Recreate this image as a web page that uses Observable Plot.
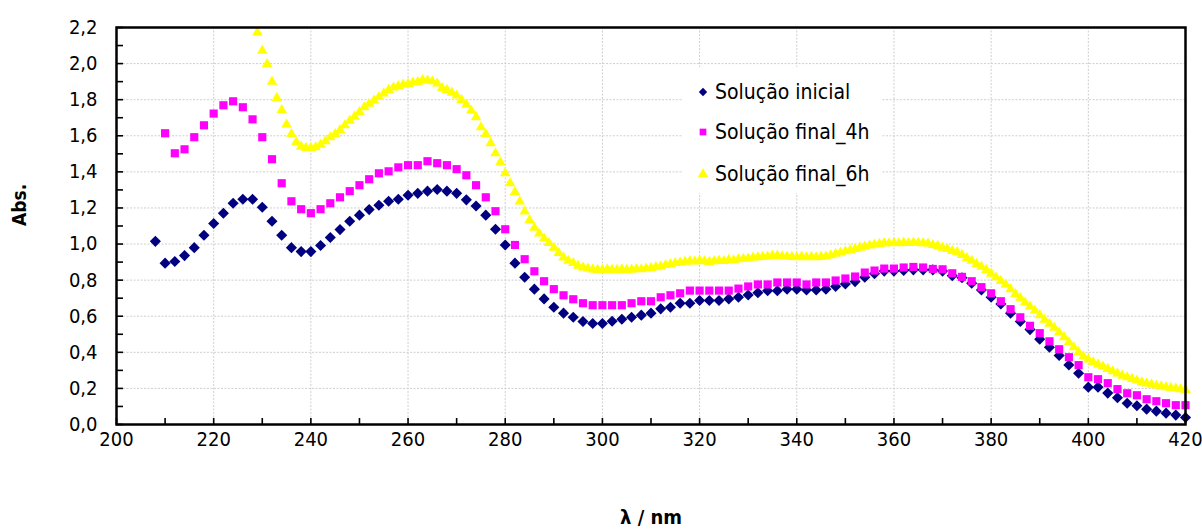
<!DOCTYPE html>
<html>
<head>
<meta charset="utf-8">
<script src="https://cdn.jsdelivr.net/npm/d3@7"></script>
<script src="https://cdn.jsdelivr.net/npm/@observablehq/plot@0.6"></script>
<style>
  body { margin: 0; background: #fff; }
  #wrap { position: relative; width: 1202px; height: 532px; font-family: "DejaVu Sans Condensed", "DejaVu Sans", sans-serif; font-stretch: condensed; }
  #legend { position: absolute; left: 683px; top: 67px; width: 199px; height: 126px; background: #fff; }
  .item { position: absolute; left: 14px; height: 24px; display: flex; align-items: center; font-size: 21px; color: #000; white-space: nowrap; }
  .item svg { margin-right: 6px; }
</style>
</head>
<body>
<div id="wrap">
  <div id="chart"></div>
  <div id="legend"></div>
</div>
<script>
// ---- data ----
const seriesNames = ["Solução inicial", "Solução final_4h", "Solução final_6h"];
const seriesColors = ["#000080", "#FF00FF", "#FFFF00"];
const seriesSymbols = ["diamond2", "square", "triangle"];

// wavelength grids (nm): start, step
const inicialStart = 208, inicialStep = 2;
const final4hStart = 210, final4hStep = 2;
const final6hStart = 229, final6hStep = 1;

const absInicial = [
  1.015, 0.894, 0.903, 0.936, 0.980, 1.049, 1.114, 1.171, 1.226, 1.248,
  1.248, 1.204, 1.126, 1.049, 0.980, 0.958, 0.958, 0.992, 1.036, 1.080,
  1.126, 1.160, 1.191, 1.215, 1.237, 1.248, 1.270, 1.281, 1.293, 1.302,
  1.293, 1.281, 1.245, 1.211, 1.160, 1.082, 0.995, 0.894, 0.816, 0.750,
  0.696, 0.650, 0.617, 0.594, 0.571, 0.560, 0.560, 0.572, 0.583, 0.594,
  0.606, 0.617, 0.641, 0.650, 0.672, 0.672, 0.687, 0.687, 0.687, 0.696,
  0.705, 0.718, 0.730, 0.741, 0.741, 0.750, 0.750, 0.746, 0.746, 0.750,
  0.765, 0.779, 0.792, 0.816, 0.835, 0.850, 0.850, 0.853, 0.857, 0.857,
  0.857, 0.850, 0.825, 0.813, 0.783, 0.746, 0.705, 0.668, 0.617, 0.571,
  0.526, 0.473, 0.428, 0.382, 0.330, 0.284, 0.207, 0.207, 0.174, 0.148,
  0.118, 0.104, 0.085, 0.074, 0.063, 0.052, 0.039
];

const absFinal4h = [
  1.614, 1.503, 1.525, 1.592, 1.658, 1.723, 1.769, 1.791, 1.758, 1.691,
  1.592, 1.470, 1.337, 1.237, 1.193, 1.171, 1.193, 1.226, 1.259, 1.293,
  1.326, 1.359, 1.392, 1.403, 1.425, 1.437, 1.437, 1.459, 1.448, 1.437,
  1.415, 1.381, 1.326, 1.259, 1.182, 1.082, 0.995, 0.916, 0.849, 0.794,
  0.750, 0.716, 0.694, 0.672, 0.661, 0.661, 0.661, 0.661, 0.672, 0.683,
  0.683, 0.705, 0.716, 0.727, 0.742, 0.742, 0.742, 0.742, 0.742, 0.753,
  0.765, 0.776, 0.776, 0.787, 0.787, 0.787, 0.776, 0.787, 0.787, 0.798,
  0.809, 0.820, 0.842, 0.853, 0.864, 0.864, 0.870, 0.873, 0.870, 0.862,
  0.860, 0.838, 0.818, 0.794, 0.761, 0.727, 0.683, 0.639, 0.594, 0.547,
  0.506, 0.461, 0.417, 0.373, 0.329, 0.262, 0.251, 0.229, 0.196, 0.173,
  0.162, 0.140, 0.129, 0.118, 0.107, 0.107
];

const absFinal6h = [
  2.173, 2.072, 1.998, 1.900, 1.810, 1.743, 1.662, 1.610, 1.564, 1.540,
  1.533, 1.533, 1.536, 1.551, 1.570, 1.592, 1.610, 1.632, 1.658, 1.684,
  1.706, 1.732, 1.758, 1.777, 1.795, 1.815, 1.835, 1.854, 1.867, 1.876,
  1.884, 1.887, 1.895, 1.898, 1.909, 1.906, 1.902, 1.890, 1.865, 1.854,
  1.839, 1.823, 1.799, 1.773, 1.740, 1.703, 1.647, 1.610, 1.559, 1.503,
  1.453, 1.392, 1.337, 1.288, 1.236, 1.180, 1.132, 1.090, 1.058, 1.031,
  1.006, 0.980, 0.951, 0.926, 0.907, 0.895, 0.880, 0.870, 0.864, 0.859,
  0.857, 0.857, 0.860, 0.857, 0.857, 0.860, 0.857, 0.858, 0.862, 0.860,
  0.864, 0.868, 0.872, 0.877, 0.884, 0.889, 0.895, 0.898, 0.902, 0.905,
  0.903, 0.909, 0.905, 0.901, 0.905, 0.909, 0.906, 0.912, 0.910, 0.916,
  0.918, 0.920, 0.925, 0.927, 0.930, 0.931, 0.936, 0.936, 0.932, 0.931,
  0.929, 0.927, 0.930, 0.927, 0.929, 0.927, 0.930, 0.931, 0.938, 0.946,
  0.953, 0.960, 0.967, 0.973, 0.980, 0.986, 0.992, 0.997, 1.001, 1.005,
  1.004, 1.006, 1.005, 1.008, 1.006, 1.008, 1.007, 1.005, 1.003, 0.995,
  0.990, 0.980, 0.973, 0.962, 0.955, 0.940, 0.923, 0.907, 0.890, 0.874,
  0.857, 0.836, 0.816, 0.796, 0.776, 0.750, 0.724, 0.700, 0.676, 0.654,
  0.632, 0.606, 0.580, 0.558, 0.536, 0.510, 0.484, 0.456, 0.428, 0.402,
  0.377, 0.360, 0.345, 0.333, 0.321, 0.308, 0.295, 0.283, 0.271, 0.262,
  0.253, 0.244, 0.234, 0.228, 0.222, 0.216, 0.211, 0.207, 0.203, 0.199,
  0.196, 0.192
];

const xTickLabels = [200, 220, 240, 260, 280, 300, 320, 340, 360, 380, 400, 420];
const xMinorTicks = [200, 210, 220, 230, 240, 250, 260, 270, 280, 290, 300, 310, 320, 330, 340, 350, 360, 370, 380, 390, 400, 410, 420];
const yTickLabels = [0, 0.2, 0.4, 0.6, 0.8, 1.0, 1.2, 1.4, 1.6, 1.8, 2.0, 2.2];
const yMinorTicks = [0, 0.1, 0.2, 0.3, 0.4, 0.5, 0.6, 0.7, 0.8, 0.9, 1.0, 1.1, 1.2, 1.3, 1.4, 1.5, 1.6, 1.7, 1.8, 1.9, 2.0, 2.1, 2.2];
const xTitle = "λ / nm";
const yTitle = "Abs.";

// ---- build rows ----
function rows(values, start, step, name) {
  return values.map((v, i) => ({wl: start + i * step, abs: v, serie: name}));
}
const dInicial = rows(absInicial, inicialStart, inicialStep, seriesNames[0]);
const dFinal4h = rows(absFinal4h, final4hStart, final4hStep, seriesNames[1]);
const dFinal6h = rows(absFinal6h, final6hStart, final6hStep, seriesNames[2]);

const fmt = d => d.toFixed(1).replace(".", ",");
const font = '"DejaVu Sans Condensed", "DejaVu Sans", sans-serif';

const chart = Plot.plot({
  width: 1202,
  height: 532,
  marginLeft: 116,
  marginRight: 17,
  marginTop: 27,
  marginBottom: 108,
  style: {fontFamily: font, fontSize: "20px", color: "#000", background: "#fff", fontStretch: "condensed"},
  x: {domain: [200, 420]},
  y: {domain: [0, 2.2]},
  marks: [
    Plot.gridX(xTickLabels.slice(1, -1), {stroke: "#cfcfcf", strokeOpacity: 1, strokeDasharray: "2,1.5", strokeWidth: 1}),
    Plot.gridY(yTickLabels.slice(1, -1), {stroke: "#cfcfcf", strokeOpacity: 1, strokeDasharray: "2,1.5", strokeWidth: 1}),
    Plot.dot(dInicial, {x: "wl", y: "abs", symbol: () => seriesSymbols[0], fill: seriesColors[0], r: 5}),
    Plot.dot(dFinal4h, {x: "wl", y: "abs", symbol: () => seriesSymbols[1], fill: seriesColors[1], r: 4.6}),
    Plot.dot(dFinal6h, {x: "wl", y: "abs", symbol: () => seriesSymbols[2], fill: seriesColors[2], r: 3.9}),
    Plot.axisX(xMinorTicks, {tickSize: -6, tickFormat: () => "", stroke: "#000", strokeWidth: 1.6, label: null}),
    Plot.axisY(yMinorTicks, {tickSize: -7, tickFormat: () => "", stroke: "#000", strokeWidth: 1.6, label: null}),
    Plot.axisX(xTickLabels, {tickSize: 0, tickPadding: 7, tickFormat: d => String(d), label: null, fontSize: 20}),
    Plot.axisY(yTickLabels, {tickSize: 0, tickPadding: 19, tickFormat: fmt, label: null, fontSize: 20}),
    Plot.frame({stroke: "#000", strokeWidth: 2.5}),
    Plot.text([xTitle], {frameAnchor: "bottom", dy: 99, fontWeight: "bold", fontSize: 20}),
    Plot.text([yTitle], {frameAnchor: "left", dx: -97, rotate: -90, fontWeight: "bold", fontSize: 19})
  ]
});
document.getElementById("chart").appendChild(chart);

// ---- legend ----
const legend = document.getElementById("legend");
const legendTops = [13, 53, 95];
seriesNames.forEach((name, i) => {
  const item = document.createElement("div");
  item.className = "item";
  item.style.top = legendTops[i] + "px";
  const sym = d3.symbol(d3["symbol" + {diamond2: "Diamond2", square: "Square", triangle: "Triangle"}[seriesSymbols[i]]], 45)();
  item.innerHTML = `<svg width="12" height="12" viewBox="-6 -6 12 12"><path d="${sym}" fill="${seriesColors[i]}"/></svg><span>${name}</span>`;
  legend.appendChild(item);
});
</script>
</body>
</html>
